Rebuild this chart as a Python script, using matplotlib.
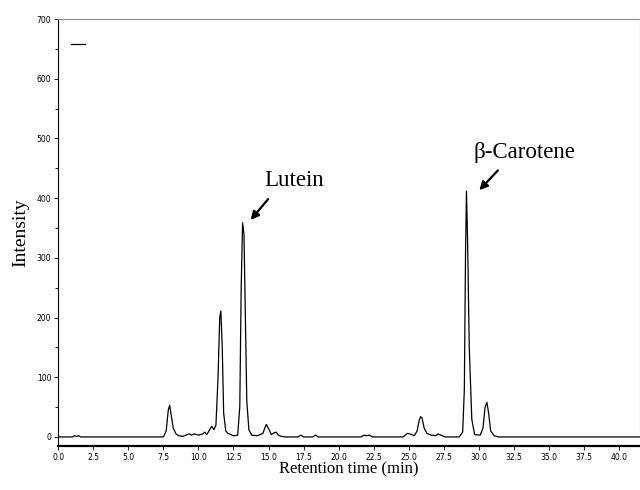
import matplotlib.pyplot as plt
from matplotlib.ticker import MultipleLocator, FormatStrFormatter

# chromatogram trace (retention time in min, intensity)
tiempo = [0.0, 1.0, 1.15, 1.3, 1.45, 1.6, 1.8, 7.5, 7.7, 7.85, 7.95, 8.05, 8.2, 8.4, 8.6, 8.9,
          9.2, 9.35, 9.5, 9.7, 9.85, 10.0, 10.3, 10.45, 10.6, 10.8, 10.95, 11.1, 11.25, 11.4,
          11.52, 11.6, 11.7, 11.8, 11.95, 12.1, 12.3, 12.5, 12.8, 12.95, 13.05, 13.15, 13.25,
          13.35, 13.45, 13.6, 13.8, 14.2, 14.6, 14.75, 14.85, 15.0, 15.2, 15.4, 15.55, 15.7,
          15.9, 16.2, 17.1, 17.3, 17.5, 18.15, 18.35, 18.55, 21.6, 21.8, 22.0, 22.2, 22.4,
          24.6, 24.9, 25.1, 25.4, 25.6, 25.75, 25.85, 25.95, 26.1, 26.3, 26.6, 26.9, 27.1,
          27.3, 27.6, 28.6, 28.85, 28.97, 29.05, 29.12, 29.2, 29.32, 29.5, 29.7, 30.1, 30.3,
          30.45, 30.58, 30.7, 30.85, 31.1, 31.4, 41.5]
intensidade = [0, 0, 2, 1, 2, 0, 0, 0, 10, 45, 53, 38, 15, 5, 2, 1,
               4, 5, 3, 5, 4, 3, 5, 8, 4, 12, 18, 12, 20, 100,
               200, 211, 150, 40, 10, 6, 4, 2, 3, 50, 250, 359, 340,
               200, 60, 12, 3, 2, 6, 16, 21, 14, 4, 7, 8, 3,
               1, 0, 0, 3, 0, 0, 3, 0, 0, 3, 2, 3, 0,
               0, 6, 5, 2, 10, 28, 34, 32, 15, 6, 3, 2, 5,
               3, 0, 0, 8, 80, 300, 412, 330, 150, 30, 4, 3, 15,
               50, 58, 40, 10, 2, 0, 0]

rotulos = ['Lutein', '\u03b2-Carotene']
pos_seta = [(13.6, 360), (29.9, 410)]
pos_cauda = [(15.1, 402), (31.5, 450)]
pos_texto = [(14.7, 430), (29.6, 477)]

fig = plt.figure(figsize=(6.4, 4.9), dpi=100)
ax = fig.add_axes([0.091, 0.09, 0.909, 0.871])

linha, = ax.plot(tiempo, intensidade, color='black', linewidth=0.9)

ax.set_xlim(0, 41.5)
ax.set_ylim(-15, 700)
ax.xaxis.set_major_locator(MultipleLocator(2.5))
ax.xaxis.set_major_formatter(FormatStrFormatter('%.1f'))
ax.yaxis.set_major_locator(MultipleLocator(100))
ax.yaxis.set_minor_locator(MultipleLocator(50))
ax.tick_params(axis='both', which='major', labelsize=5.5, length=3, width=0.6, pad=2)
ax.tick_params(axis='y', which='minor', length=2, width=0.6)

for lado in ['top', 'right']:
    ax.spines[lado].set_color('#888888')
    ax.spines[lado].set_linewidth(0.8)
ax.spines['bottom'].set_linewidth(1.6)
ax.spines['left'].set_linewidth(0.8)

serif = ['Liberation Serif', 'DejaVu Serif']
ax.set_xlabel('Retention time (min)', fontsize=12, family=serif, labelpad=0)
ax.set_ylabel('Intensity', fontsize=14, family=serif, labelpad=5)

for rotulo, seta, cauda, texto in zip(rotulos, pos_seta, pos_cauda, pos_texto):
    ax.annotate('', xy=seta, xytext=cauda,
                arrowprops=dict(arrowstyle='-|>', color='black', lw=1.6, mutation_scale=12))
    ax.text(texto[0], texto[1], rotulo, fontsize=16.5, family=serif,
            ha='left', va='center')

ax.legend([linha], [''], loc='upper left', frameon=False, handlelength=1.0,
          bbox_to_anchor=(0.0, 0.985))

fig.savefig('out.png', dpi=100)
